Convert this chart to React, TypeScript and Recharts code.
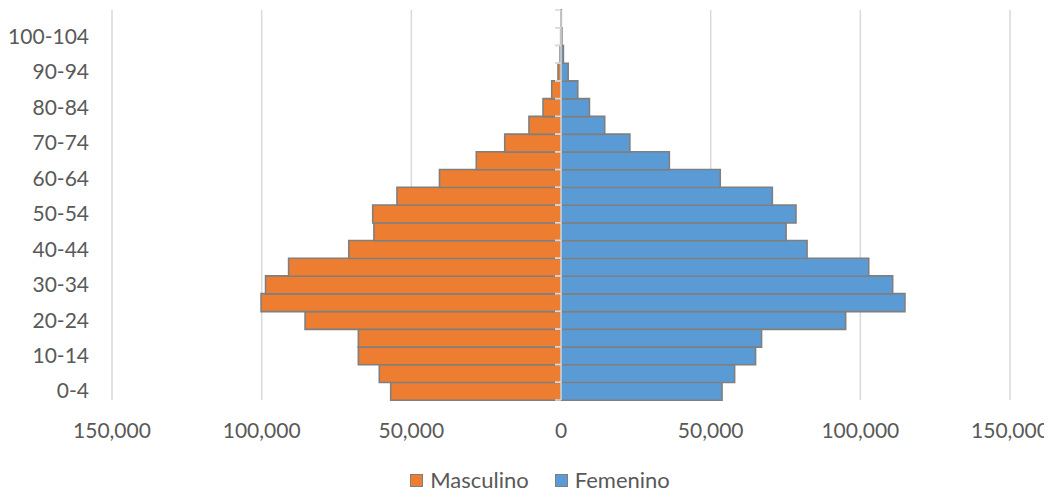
/**
 * Population pyramid (Masculino / Femenino)
 */

import { BarChart, Bar, XAxis, YAxis, CartesianGrid, ReferenceLine, Legend } from 'recharts';

const ageGroups = [
  '0-4', '5-9', '10-14', '15-19', '20-24', '25-29', '30-34', '35-39', '40-44', '45-49', '50-54',
  '55-59', '60-64', '65-69', '70-74', '75-79', '80-84', '85-89', '90-94', '95-99', '100-104', '105+',
];

const masculino = [
  56900, 60700, 67700, 67700, 85500, 100200, 98700, 91000, 70900, 62500, 62900,
  54800, 40600, 28300, 18800, 10700, 6000, 3100, 1000, 300, 100, 50,
];

const femenino = [
  53800, 58000, 65000, 67000, 95100, 114900, 110800, 102800, 82200, 75200, 78500,
  70600, 53200, 36200, 23000, 14600, 9500, 5600, 2400, 800, 300, 100,
];

const xTicks = [-150000, -100000, -50000, 0, 50000, 100000, 150000];

const ORANGE = '#ED7D31';
const BLUE = '#5B9BD5';
const OUTLINE = '#7F7F7F';
const TEXT = '#595959';
const GRID = '#D9D9D9';
const FONT = 'Lato, "Open Sans", sans-serif';

const CHART_W = 1044;
const CHART_H = 489;
const MARGIN = { top: 2, right: 42, bottom: 2, left: 0 };
const Y_AXIS_W = 104;
const X_AXIS_H = 65;
const LEGEND_H = 30;

const PLOT_W = CHART_W - MARGIN.left - MARGIN.right - Y_AXIS_W;
const PLOT_H = CHART_H - MARGIN.top - MARGIN.bottom - X_AXIS_H - LEGEND_H;
const AXIS_X = MARGIN.left + Y_AXIS_W + PLOT_W / 2;
const BAND = PLOT_H / ageGroups.length;

const data = ageGroups.map((age, i) => ({
  age,
  Masculino: -masculino[i],
  Femenino: femenino[i],
}));

const formatTick = (v: number) => Math.abs(v).toLocaleString('en-US');

// category labels on the far left, small tick marks on the centre axis
const AgeTick = (props: any) => {
  const { x, y, payload, index } = props;
  return (
    <g>
      <line x1={AXIS_X - 6} x2={AXIS_X} y1={y - BAND / 2} y2={y - BAND / 2} stroke={GRID} strokeWidth={1.5} />
      <line x1={AXIS_X - 6} x2={AXIS_X} y1={y + BAND / 2} y2={y + BAND / 2} stroke={GRID} strokeWidth={1.5} />
      {index % 2 === 0 && (
        <text x={x} y={y} dy="0.35em" textAnchor="end" fill={TEXT} fontSize={21} fontFamily={FONT}>
          {payload.value}
        </text>
      )}
    </g>
  );
};

const LegendContent = () => (
  <div
    style={{
      display: 'flex',
      justifyContent: 'center',
      gap: 26,
      paddingLeft: 62,
      fontSize: 22,
      color: TEXT,
      fontFamily: FONT,
      lineHeight: '30px',
    }}
  >
    {[
      { name: 'Masculino', color: ORANGE },
      { name: 'Femenino', color: BLUE },
    ].map((item) => (
      <div key={item.name} style={{ display: 'flex', alignItems: 'center' }}>
        <span
          style={{
            display: 'inline-block',
            width: 11,
            height: 11,
            background: item.color,
            border: `1px solid ${OUTLINE}`,
            marginRight: 7,
          }}
        />
        {item.name}
      </div>
    ))}
  </div>
);

export default function App() {
  return (
    <div style={{ fontFamily: FONT, width: CHART_W, height: CHART_H }}>
      <BarChart
        width={CHART_W}
        height={CHART_H}
        data={data}
        layout="vertical"
        stackOffset="sign"
        barCategoryGap={0}
        margin={MARGIN}
      >
        <CartesianGrid horizontal={false} stroke={GRID} strokeWidth={1.5} />
        <XAxis
          type="number"
          domain={[-150000, 150000]}
          ticks={xTicks}
          tickFormatter={formatTick}
          axisLine={false}
          tickLine={false}
          tickSize={0}
          tickMargin={23}
          height={X_AXIS_H}
          tick={{ fill: TEXT, fontSize: 21, fontFamily: FONT }}
        />
        <Bar dataKey="Masculino" stackId="pop" fill={ORANGE} stroke={OUTLINE} strokeWidth={1.6} isAnimationActive={false} />
        <Bar dataKey="Femenino" stackId="pop" fill={BLUE} stroke={OUTLINE} strokeWidth={1.6} isAnimationActive={false} />
        <ReferenceLine x={0} stroke={GRID} strokeWidth={1.5} />
        <YAxis
          type="category"
          dataKey="age"
          reversed
          width={Y_AXIS_W}
          interval={0}
          axisLine={false}
          tickLine={false}
          tickSize={0}
          tickMargin={23}
          tick={<AgeTick />}
        />
        <Legend verticalAlign="bottom" height={LEGEND_H} content={<LegendContent />} />
      </BarChart>
    </div>
  );
}
